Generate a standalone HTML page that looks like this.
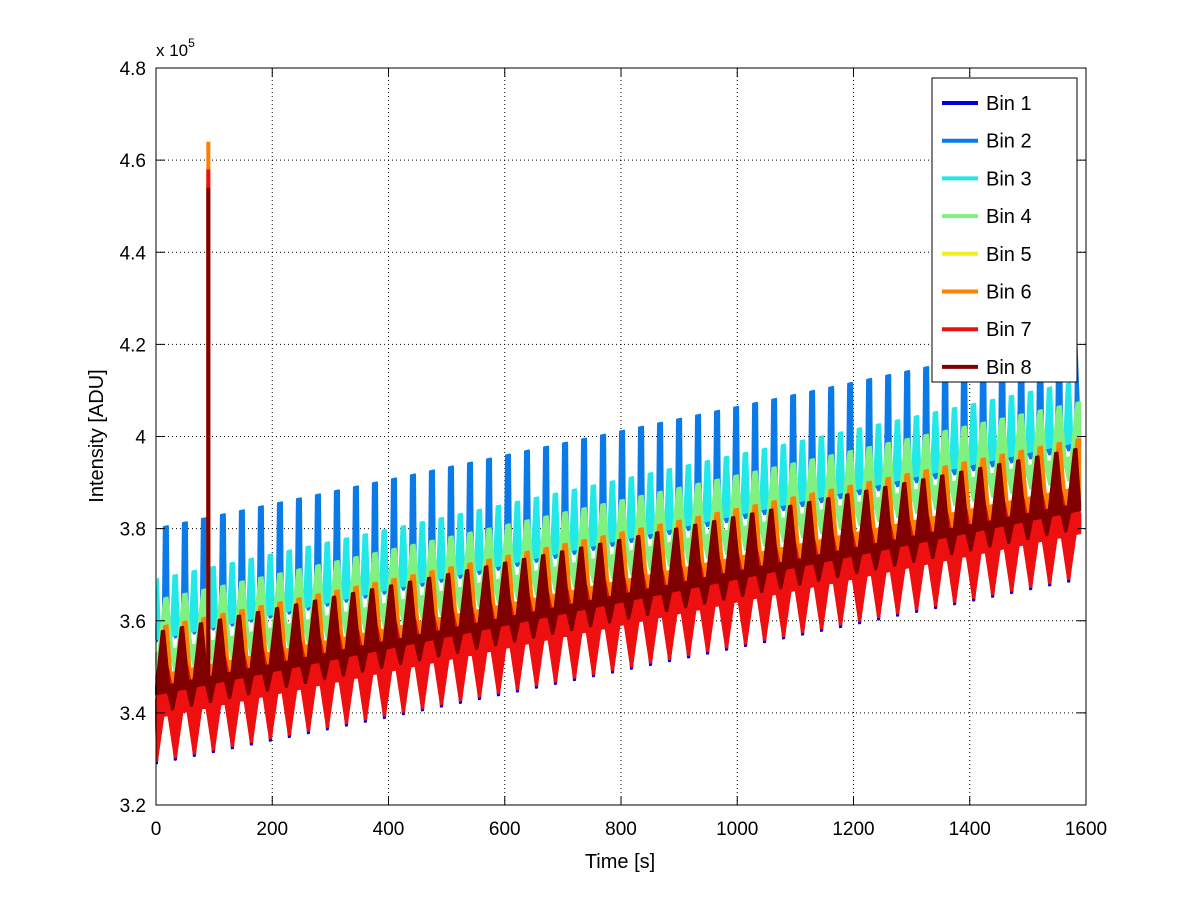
<!DOCTYPE html>
<html><head><meta charset="utf-8"><style>
html,body{margin:0;padding:0;background:#fff;}
svg{display:block;font-family:"Liberation Sans",sans-serif;}
</style></head><body>
<svg id="chart" width="1200" height="901" viewBox="0 0 1200 901" xmlns="http://www.w3.org/2000/svg">
<rect x="0" y="0" width="1200" height="901" fill="#fff"/>
<g id="grid"></g>
<g id="series"></g>
<g id="axes"></g>
<g id="legend"></g>
</svg>
<script>
const binNames = ["Bin 1","Bin 2","Bin 3","Bin 4","Bin 5","Bin 6","Bin 7","Bin 8"];
const binColors = ["#0000d8","#0a7ae8","#22e8e8","#80f080","#f0f020","#ff8000","#ee1010","#800000"];
const peakStart     = [3.47,3.80,3.69,3.645,3.51,3.585,3.49,3.575];
const valleyStart   = [3.42,3.575,3.58,3.53,3.44,3.48,3.43,3.455];
const baseStart     = [3.40,3.565,3.56,3.51,3.41,3.46,3.39,3.44];
const lowSpikeStart = [3.29,3.555,3.54,3.48,3.31,3.43,3.295,3.40];
const riseTotal     = [0.40,0.42,0.43,0.43,0.41,0.41,0.40,0.40];
const phaseSec      = [17,17,33,17,17,17,17,12];
const peakHalfSec   = [2.5,3.5,3,3,2.5,3,4,2];
const rampSec       = [6,2,4,10,6,8,12,11];
const lowRampSec    = [8,4,4,6,8,6,12,8];
const spikeValues=[3.5,3.8,3.7,3.7,3.6,4.64,4.58,4.54];
const spikeTime = 90;
const periodSec = 32.7;
const tEnd = 1590;
const xTicks = [0,200,400,600,800,1000,1200,1400,1600];
const yTicks = [3.2,3.4,3.6,3.8,4.0,4.2,4.4,4.6,4.8];
const yTickLabels = ["3.2","3.4","3.6","3.8","4","4.2","4.4","4.6","4.8"];

const L=156,R=1086,T=68,B=805;
const X=t=>L+(t-0)/1600*(R-L);
const Y=v=>B-(v-3.2)/1.6*(B-T);
const NS="http://www.w3.org/2000/svg";
function mk(tag,attrs,parent){const e=document.createElementNS(NS,tag);for(const k in attrs)e.setAttribute(k,attrs[k]);parent.appendChild(e);return e;}
const grid=document.getElementById('grid'),axes=document.getElementById('axes'),ser=document.getElementById('series'),leg=document.getElementById('legend');

xTicks.forEach((t,i)=>{
  const g=mk('line',{x1:X(t),x2:X(t),y1:T,y2:B,stroke:'#000','stroke-width':1,'stroke-dasharray':'1,3'},grid);
  
  
  mk('line',{x1:X(t),x2:X(t),y1:B,y2:B-9,stroke:'#000'},axes);
  mk('line',{x1:X(t),x2:X(t),y1:T,y2:T+9,stroke:'#000'},axes);
  const tx=mk('text',{x:X(t),y:B+30,'font-size':19,'text-anchor':'middle'},axes);
  tx.textContent=t;
  
  
});
yTicks.forEach((v,i)=>{
  const g=mk('line',{x1:L,x2:R,y1:Y(v),y2:Y(v),stroke:'#000','stroke-width':1,'stroke-dasharray':'1,3'},grid);
  
  
  mk('line',{x1:L,x2:L+9,y1:Y(v),y2:Y(v),stroke:'#000'},axes);
  mk('line',{x1:R,x2:R-9,y1:Y(v),y2:Y(v),stroke:'#000'},axes);
  const tx=mk('text',{x:L-10,y:Y(v)+7,'font-size':19,'text-anchor':'end'},axes);
  tx.textContent=yTickLabels[i];
  
  
});

binNames.forEach((name,b)=>{
  const off=t=>riseTotal[b]*t/tEnd;
  const up=[],lo=[];
  const P=periodSec,h=peakHalfSec[b],r=rampSec[b],lr=lowRampSec[b];
  up.push([0,valleyStart[b]+off(0)]);
  for(let t0=phaseSec[b]-P;t0<tEnd+P;t0+=P){
    [[t0-h-r,valleyStart[b]],[t0-h,peakStart[b]],[t0+h,peakStart[b]],[t0+h+r*0.8,valleyStart[b]]].forEach(([t,v])=>{
      if(t>0&&t<tEnd)up.push([t,v+off(t)]);
    });
  }
  up.push([tEnd,valleyStart[b]+off(tEnd)]);
  lo.push([0,baseStart[b]+off(0)]);
  for(let t0=phaseSec[b]-P/2;t0<tEnd+P;t0+=P){
    [[t0-lr,baseStart[b]],[t0-1,lowSpikeStart[b]],[t0+1,lowSpikeStart[b]],[t0+lr,baseStart[b]]].forEach(([t,v])=>{
      if(t>0&&t<tEnd)lo.push([t,v+off(t)]);
    });
  }
  lo.push([tEnd,baseStart[b]+off(tEnd)]);
  const pts=up.concat(lo.reverse());
  const d=pts.map((p,i)=>(i?'L':'M')+X(p[0]).toFixed(1)+' '+Y(p[1]).toFixed(1)).join(' ')+'Z';
  const path=mk('path',{d:d,fill:binColors[b],stroke:binColors[b],'stroke-width':2,'stroke-linejoin':'round'},ser);
  
  
  const sp=mk('line',{x1:X(spikeTime),x2:X(spikeTime),y1:Y(valleyStart[b]+off(spikeTime)),y2:Y(spikeValues[b]),stroke:binColors[b],'stroke-width':4},ser);
  
  
});

mk('rect',{x:L,y:T,width:R-L,height:B-T,fill:'none',stroke:'#000','stroke-width':1},axes);
const ex=mk('text',{x:156,y:56,'font-size':17},axes);
ex.innerHTML='x 10<tspan dy="-9" font-size="12">5</tspan>';


const xl=mk('text',{x:620,y:868,'font-size':20,'text-anchor':'middle'},axes);
xl.textContent='Time [s]';


const yl=mk('text',{x:0,y:0,'font-size':20,'text-anchor':'middle',transform:'translate(103,436) rotate(-90)'},axes);
yl.textContent='Intensity [ADU]';



const lb=mk('rect',{x:932,y:78,width:145,height:304,fill:'#fff',stroke:'#000','stroke-width':1},leg);


binNames.forEach((name,b)=>{
  const y=103+b*37.7;
  const g=mk('g',{},leg);
  
  
  mk('line',{x1:942,x2:978,y1:y,y2:y,stroke:binColors[b],'stroke-width':4},g);
  const t=mk('text',{x:986,y:y+7,'font-size':20},g);
  t.textContent=name;
});
</script>
</body></html>
